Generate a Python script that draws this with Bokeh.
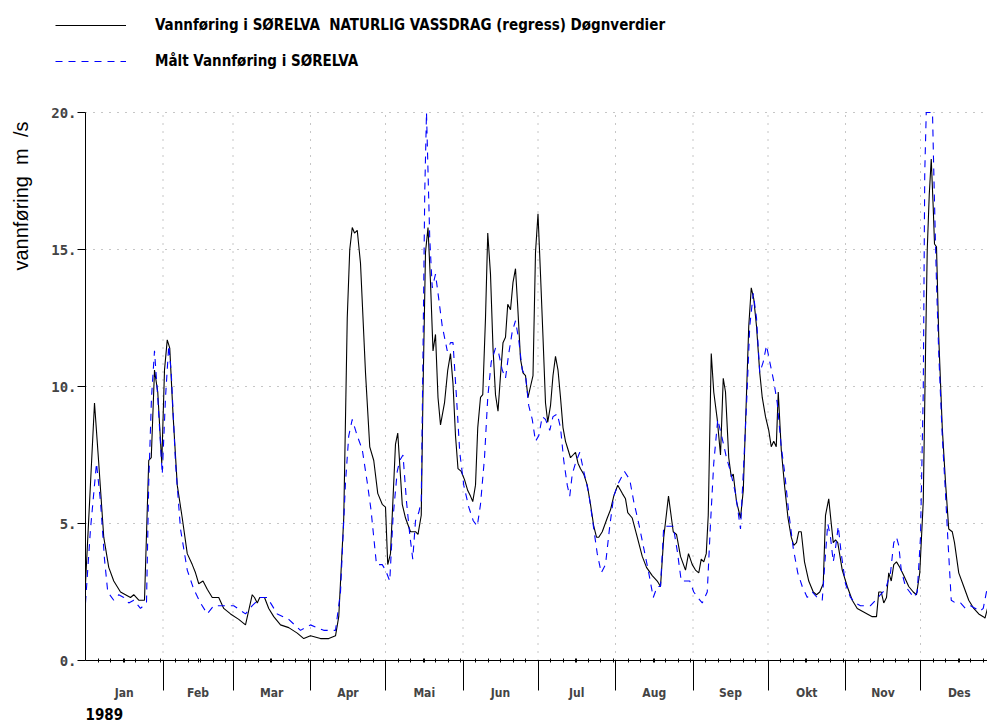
import math
from bokeh.plotting import figure
from bokeh.models import Range1d, FixedTicker, Legend, LegendItem, Label
from bokeh.embed import file_html
from bokeh.resources import INLINE

# ---------------- data ----------------
month_names = ["Jan", "Feb", "Mar", "Apr", "Mai", "Jun", "Jul", "Aug", "Sep", "Okt", "Nov", "Des"]
month_lengths = [31, 28, 31, 30, 31, 30, 31, 31, 30, 31, 30, 31]
year_label = "1989"
y_ticks = [0, 5, 10, 15, 20]
y_tick_labels = ["0.", "5.", "10.", "15.", "20."]
y_title = "vannf\u00f8ring\u00a0\u00a0m\u00a0\u00a0/s"
series_names = [
    "Vannf\u00f8ring i S\u00d8RELVA\u00a0 NATURLIG VASSDRAG (regress) D\u00f8gnverdier",
    "M\u00e5lt Vannf\u00f8ring i S\u00d8RELVA",
]

# day of year (0 = 1 Jan) and discharge, natural (regressed) series
nat_day = [0, 3.6, 5.3, 7.3, 9.3, 11.3, 14, 16, 18, 19.3, 21.3, 23.6, 25.3, 26.3, 27.6, 28.9, 30.5,
           31.6, 32.7, 33.7, 35, 36.7, 38.7, 40.7, 42.7, 44, 45.3, 47, 48.7, 50.7, 53.3, 55.3, 58,
           61.3, 64, 66.7, 67.6, 68.7, 69.7, 71.6, 73.3, 75.3, 78, 81.3, 84.7, 87.3, 90, 94, 97.3,
           100, 101.3, 103.3, 104.7, 105.7, 106.7, 107.6, 108.7, 110, 112, 113.7, 115.3, 116.9,
           118.7, 120, 120.9, 122, 124, 124.9, 126.7, 128, 130, 132, 133, 134.3, 135, 136, 137,
           138, 139, 140, 141, 142, 143.6, 144.9, 146, 147, 148, 149, 150.3, 151.6, 152.9, 154,
           154.9, 156, 156.9, 158, 158.9, 160, 160.9, 162, 163, 164, 165, 166, 167, 168, 168.9,
           170, 171, 172, 172.9, 174, 175, 176, 177, 178, 179, 180, 181, 182, 183, 184, 184.9,
           186, 187, 188, 189, 190, 191, 192, 193, 194, 195, 196, 197, 198, 199.3, 200.7, 202,
           203.3, 204.4, 205.3, 206.7, 208.7, 210, 211.3, 212.9, 214.7, 216, 216.9, 218.7, 220.7,
           222.7, 224.4, 226.7, 228.7, 230, 231.3, 233.2, 235.1, 236.4, 238, 240, 241.2, 242.7,
           244, 245.3, 246.3, 247.3, 248.3, 249.1, 250.3, 251.3, 252.7, 254, 255.1, 256, 257.3,
           258.3, 259.1, 260.4, 262, 263.1, 264.1, 265.3, 266.3, 267.3, 268.4, 269.7, 270.7, 272,
           273.3, 274.3, 275.3, 276.3, 277.1, 278.3, 279.6, 281, 282.3, 283.3, 284.4, 285.3,
           286.3, 287.6, 289.3, 291.1, 292.4, 293.7, 295.1, 296, 297.3, 298.3, 299.1, 300, 300.9,
           302.7, 304.7, 306.7, 308.7, 310.7, 312.7, 314.7, 316.4, 317.3, 318.3, 319.3, 320.4,
           321.3, 322.3, 323.3, 324.4, 325.7, 327.3, 329.3, 331.1, 332.4, 333.7, 335.1, 336,
           336.7, 337.5, 338.3, 339.1, 339.6, 340.4, 341.3, 342.7, 344, 345.3, 346.7, 347.6,
           349.3, 351.3, 353.3, 355.3, 357.3, 359.1, 359.8, 360.8]
nat_flow = [2.8, 9.4, 7.2, 4.5, 3.4, 2.9, 2.5, 2.4, 2.3, 2.4, 2.2, 2.2, 7.3, 7.4, 10.6, 9.8, 7.2,
            10.6, 11.7, 11.4, 9.0, 6.4, 5.2, 3.9, 3.5, 3.2, 2.8, 2.9, 2.6, 2.3, 2.3, 1.9, 1.7,
            1.5, 1.3, 2.4, 2.3, 2.1, 2.3, 2.3, 1.9, 1.6, 1.3, 1.2, 1.0, 0.8, 0.9, 0.8, 0.8,
            0.9, 1.6, 5.2, 12.5, 15.0, 15.8, 15.6, 15.7, 14.5, 10.5, 7.8, 7.3, 6.1,
            5.7, 5.6, 3.5, 3.9, 7.9, 8.3, 5.7, 5.2, 4.7, 4.7, 4.6, 5.3, 9.8, 14.9, 15.8,
            13.8, 11.3, 11.9, 9.6, 8.6, 9.4, 10.6, 11.2, 10.1, 8.2, 7.0, 6.9, 6.6, 6.2, 6.0,
            5.8, 6.4, 8.5, 9.6, 9.7, 12.5, 15.6, 14.1, 11.4, 9.7, 9.1, 10.4, 11.6, 11.8, 13.0,
            12.8, 13.8, 14.3, 12.9, 11.0, 10.5, 10.4, 9.6, 10.0, 10.4, 14.9, 16.3, 14.1, 11.8, 9.4, 8.7,
            9.3, 10.4, 11.1, 10.6, 9.6, 8.5, 8.0, 7.7, 7.4, 7.5, 7.6, 7.2, 7.0, 6.8, 6.4, 5.7,
            4.9, 4.5, 4.5, 4.7, 5.2, 5.5, 6.0, 6.4, 6.1, 5.9, 5.4, 5.2, 4.5,
            3.8, 3.4, 3.1, 2.9, 2.7, 4.5, 6.0, 4.7, 4.6, 3.8, 3.3, 3.9, 3.5,
            3.3, 3.2, 3.7, 3.6, 3.9, 5.3, 11.2, 9.8, 8.8, 7.5, 10.3, 9.8, 7.4,
            6.7, 6.8, 5.8, 5.2, 6.2, 8.9, 12.2, 13.6, 13.2, 12.2, 10.5, 9.6, 8.9,
            8.4, 7.8, 8.0, 7.8, 9.8, 7.7, 6.4, 5.2, 4.5, 4.2, 4.3, 4.7,
            4.7, 3.6, 2.9, 2.5, 2.4, 2.5, 2.8, 5.3, 5.9, 5.0, 4.3, 4.4, 4.3,
            3.3, 2.7, 2.2, 1.9, 1.8, 1.7, 1.6, 1.6, 2.5, 2.5, 2.1, 2.3,
            3.2, 2.9, 3.5, 3.6, 3.4, 3.1, 2.7, 2.5, 2.4, 3.2, 5.8, 11.2,
            15.0, 17.0, 18.3, 16.5, 15.2, 15.1, 11.8, 8.5, 6.5, 4.8, 4.7, 4.3,
            3.2, 2.7, 2.2, 1.9, 1.7, 1.6, 1.55, 1.9]

# measured series (the two floods run off the top of the chart; read as 20, the top of the scale)
meas_day = [0, 2, 4.4, 6, 7.6, 8.9, 11.3, 13.3, 15.3, 17.3, 19.3, 22, 24.4, 25.3, 26.4, 27.6, 28.9,
            30.7, 32, 33.3, 34.3, 36, 38, 40.7, 43.3, 46, 48.7, 51.3, 55.3, 59.3, 64, 66.7, 70,
            72.7, 76.7, 81.3, 86, 90, 95.3, 100, 102, 104, 105.3, 106.7, 108.7, 110.7, 112.7,
            114.2, 115.3, 116.4, 118.7, 120, 121.7, 123, 124.7, 125.7, 127, 128.4, 129.7, 130.9,
            132, 133.3, 134.3, 135, 135.7, 136.4, 137.7, 138.7, 140, 141.3, 142.7, 144.7, 146,
            147, 148.4, 149.7, 151.3, 153.3, 155.1, 156.7, 158, 159.6, 160.9, 162.3, 164, 165.3,
            166.7, 168, 169.3, 170.7, 172, 173.3, 174.7, 176, 177.3, 178.7, 180, 181.3, 182.7,
            184, 185.7, 187, 188.7, 190, 191.3, 192.7, 193.7, 194.7, 196, 197.7, 199.3, 201.3,
            203, 204.7, 206.3, 208, 209.7, 211.3, 213.3, 215.6, 217.7, 219.3, 221.3, 223.3,
            225.3, 227.1, 228.7, 230, 231.3, 233.3, 235.1, 236.7, 238.3, 240, 241.7, 243.3,
            244.9, 246.7, 248.7, 250, 251.3, 252.9, 254.7, 256.4, 258, 260, 262, 263.3, 264.4,
            265.7, 267.1, 268.4, 269.7, 271.1, 272.4, 273.7, 275.3, 276.7, 278.3, 279.6, 281.3,
            283.1, 284.9, 286.7, 288.7, 290.7, 292.7, 294.7, 295.7, 296.9, 298, 299.1, 300,
            301.1, 302.3, 304, 306, 308, 310, 312, 314, 316, 318, 320, 322, 323.3, 324.4, 325.3,
            326.3, 328, 329.7, 331.3, 332.7, 334, 335.1, 335.7, 336.3, 338.8, 339.4, 340, 340.4,
            341.3, 342.7, 344, 344.9, 346.3, 348, 350, 352, 354, 356, 357.7, 359.1, 360.8]
meas_flow = [2.1, 4.8, 7.2, 5.8, 3.7, 2.5, 2.2, 2.4, 2.3, 2.1, 2.2, 1.9, 2.1, 6.5, 9.6, 11.3, 9.6,
             6.8, 9.6, 11.5, 10.5, 7.2, 4.8, 3.3, 2.6, 2.1, 1.7, 2.0, 2.0, 2.0, 1.7, 2.0, 2.3,
             2.3, 1.7, 1.5, 1.1, 1.3, 1.1, 1.1, 2.5, 6.5, 8.2, 8.8, 8.2, 7.7, 6.5,
             5.5, 4.5, 3.5, 3.5, 3.3, 2.9, 5.2, 6.9, 7.3, 7.5, 5.8, 4.6, 3.7,
             5.1, 5.4, 5.8, 11.2, 17.1, 20.0, 15.4, 13.6, 14.1, 13.2, 12.2, 11.3, 11.6,
             11.6, 9.6, 7.6, 6.4, 5.6, 5.1, 4.9, 5.7, 7.4, 9.6, 10.9, 11.4, 11.2,
             10.6, 10.3, 11.2, 12.0, 12.4, 11.7, 10.6, 10.4, 9.3, 8.8, 8.0, 8.2, 8.9,
             8.8, 8.4, 8.9, 9.0, 8.5, 7.3, 6.4, 6.0, 6.8, 7.2, 7.6, 6.9, 6.1,
             5.0, 3.9, 3.2, 3.5, 4.9, 6.0, 6.5, 6.9, 6.6, 5.8, 5.0, 4.1,
             3.2, 2.3, 2.7, 2.7, 4.9, 4.9, 4.9, 4.0, 2.9, 2.9, 2.9, 2.5,
             2.3, 2.1, 2.5, 5.0, 7.2, 8.8, 8.1, 7.4, 6.9, 6.1, 4.8, 7.2, 9.3,
             12.2, 13.4, 12.5, 10.5, 10.9, 11.5, 10.9, 10.2, 9.4, 7.8, 6.9, 5.4,
             4.1, 3.2, 2.7, 2.3, 2.5, 2.3, 2.2, 3.5, 5.0, 4.5, 3.6, 4.1,
             4.9, 3.9, 2.8, 2.3, 2.1, 2.0, 2.0, 2.0, 2.2, 2.4, 2.6, 3.2, 4.3, 4.5, 4.2,
             3.3, 2.7, 2.5, 2.3, 2.5, 4.5, 9.8, 17.8, 20.0, 20.0, 17.5, 15.2, 13.8,
             11.2, 8.2, 6.1, 4.5, 2.2, 2.1, 2.1, 1.9, 2.0, 1.9, 1.8, 1.9, 2.7]

# ---------------- derived tick positions ----------------
month_starts = []
acc = 0
for n in month_lengths:
    month_starts.append(acc)
    acc += n
month_mids = [s + n / 2 for s, n in zip(month_starts, month_lengths)]
small_ticks = [s + k for s, n in zip(month_starts, month_lengths) for k in range(5, n, 5)]

COND = "DejaVu Sans Condensed"
W, H = 987, 726
PX_DAY = 2.5            # pixels per day
PX_UNIT = 27.4          # pixels per m3/s
X0_PX, Y0_PX = 85, 660  # where (day 0, 0 m3/s) sits on the canvas
X_END = (W - X0_PX) / PX_DAY  # last visible day

# ---------------- chart ----------------
# the frame fills the whole canvas; the axes sit at day 0 / value 0 inside it
p = figure(width=W, height=H,
           x_range=Range1d(-X0_PX / PX_DAY, X_END),
           y_range=Range1d(-(H - Y0_PX) / PX_UNIT, Y0_PX / PX_UNIT),
           toolbar_location=None, output_backend="svg", min_border=0)
p.outline_line_color = None
p.xgrid.visible = False
p.ygrid.visible = False

# dotted grid, limited to the plotting area
grid_color = "#8c8c8c"
p.segment(x0=month_starts[1:], y0=[y_ticks[0]] * 11, x1=month_starts[1:], y1=[y_ticks[-1]] * 11,
          line_color=grid_color, line_dash="1 7", line_width=1)
p.segment(x0=[0] * 4, y0=y_ticks[1:], x1=[X_END] * 4, y1=y_ticks[1:],
          line_color=grid_color, line_dash="1 7", line_width=1)

r_nat = p.line(nat_day, nat_flow, line_color="black", line_width=1.1)
r_meas = p.line(meas_day, meas_flow, line_color="#0000ff", line_width=1.1, line_dash="7 6")

# x axis: month labels at mid-month, long ticks at month boundaries, small ticks every 5 days
xticks = sorted(set(small_ticks + month_mids))
p.xaxis.fixed_location = 0
p.xaxis.bounds = (0, X_END)
p.xaxis.ticker = FixedTicker(ticks=xticks, minor_ticks=month_starts[1:])
overrides = {t: "" for t in xticks}
for m, name in zip(month_mids, month_names):
    overrides[m] = name
p.xaxis.major_label_overrides = overrides
p.xaxis.major_tick_in = 2
p.xaxis.major_tick_out = 2
p.xaxis.minor_tick_in = 0
p.xaxis.minor_tick_out = 30
p.xaxis.major_label_standoff = -5
p.xaxis.major_label_text_font = COND
p.xaxis.major_label_text_font_style = "bold"
p.xaxis.major_label_text_font_size = "12px"
p.xaxis.axis_line_color = "black"

# y axis
p.yaxis.fixed_location = 0
p.yaxis.bounds = (y_ticks[0], y_ticks[-1])
p.yaxis.ticker = FixedTicker(ticks=y_ticks, minor_ticks=[])
p.yaxis.major_label_overrides = {t: s for t, s in zip(y_ticks, y_tick_labels)}
p.yaxis.major_tick_in = 0
p.yaxis.major_tick_out = 8
p.yaxis.minor_tick_out = 0
p.yaxis.major_label_standoff = 1
p.yaxis.major_label_text_font = "DejaVu Sans Mono"
p.yaxis.major_label_text_font_style = "bold"
p.yaxis.major_label_text_font_size = "14px"
p.yaxis.axis_line_color = "black"

# axis title (top-aligned, as in the original) and the year under the months
p.add_layout(Label(x=-(X0_PX - 20) / PX_DAY, y=(Y0_PX - 270) / PX_UNIT, text=y_title,
                   angle=math.pi / 2, text_align="left", text_baseline="middle",
                   text_font="Liberation Sans", text_font_size="20px", text_color="black"))
p.add_layout(Label(x=0, y=-(713 - Y0_PX) / PX_UNIT, text=year_label, text_align="left",
                   text_baseline="alphabetic", text_font=COND, text_font_style="bold",
                   text_font_size="15px", text_color="black"))

# legend in the top strip
legend = Legend(items=[LegendItem(label=series_names[0], renderers=[r_nat]),
                       LegendItem(label=series_names[1], renderers=[r_meas])],
                location=(55, H - 14 - 58), orientation="vertical", margin=0, padding=0,
                spacing=14, glyph_width=71, glyph_height=22, label_height=22,
                label_standoff=29, border_line_color=None, background_fill_alpha=0,
                label_text_font=COND, label_text_font_style="bold",
                label_text_font_size="15px", label_text_color="black")
p.add_layout(legend)

open("out.html", "w").write(file_html(p, INLINE))
